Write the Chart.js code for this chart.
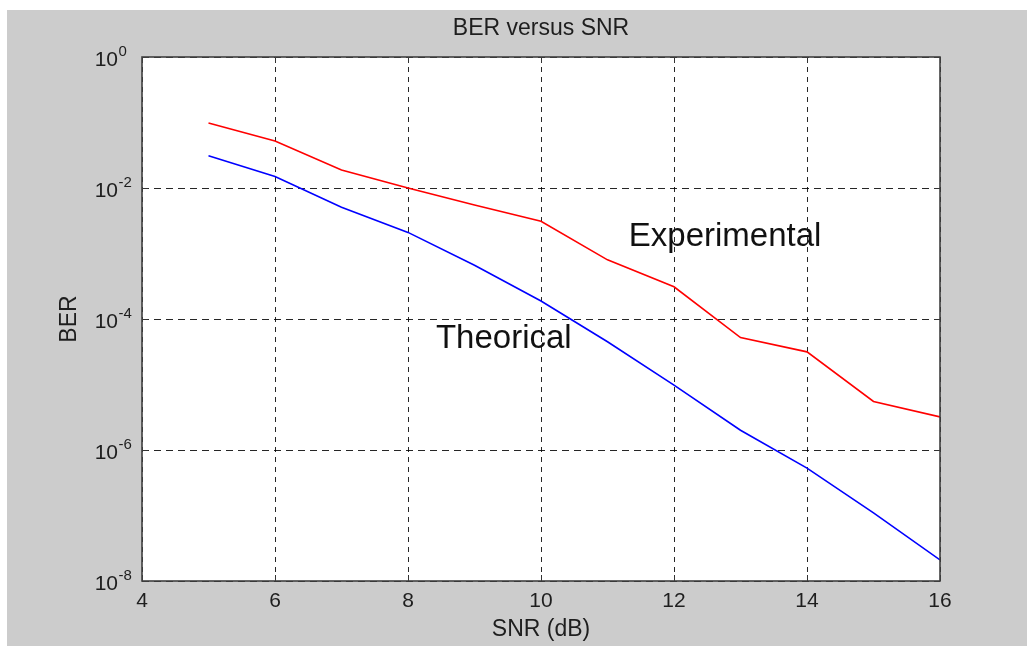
<!DOCTYPE html>
<html>
<head>
<meta charset="utf-8">
<style>
  html, body { margin: 0; padding: 0; background: #ffffff; }
  #wrap { width: 1027px; height: 646px; }
  canvas { display: block; }
</style>
<script src="https://cdn.jsdelivr.net/npm/chart.js@4.4.1/dist/chart.umd.min.js"></script>
</head>
<body>
<div id="wrap"><canvas id="c" width="1027" height="646"></canvas></div>
<script>
// ---- data ----
const snr = [5, 6, 7, 8, 9, 10, 11, 12, 13, 14, 15, 16];
const berExperimental = [0.098, 0.052, 0.0188, 0.0100, 0.0055, 0.0031, 8.0e-4, 3.1e-4, 5.2e-5, 3.15e-5, 5.5e-6, 3.2e-6];
const berTheorical = [0.031, 0.015, 0.0051, 0.0021, 6.6e-4, 1.88e-4, 4.5e-5, 9.8e-6, 2.0e-6, 5.3e-7, 1.1e-7, 2.1e-8];
const xTicks = [4, 6, 8, 10, 12, 14, 16];
const yTickExponents = [0, -2, -4, -6, -8];
const annotationTexts = ['Experimental', 'Theorical'];
const annotationX = [11.32, 8.42];
const annotationY = [1.32e-3, 3.6e-5];
const titleText = 'BER versus SNR';
const xTitle = 'SNR (dB)';
const yTitle = 'BER';

const FONT = '"Liberation Sans", Arial, Helvetica, sans-serif';
const TEXT = '#1e1e1e';

const backgroundPlugin = {
  id: 'matlabBackground',
  beforeDraw(chart) {
    const c = chart.ctx, a = chart.chartArea;
    c.save();
    c.fillStyle = '#ffffff';
    c.fillRect(0, 0, chart.width, chart.height);
    c.fillStyle = '#cccccc';
    c.fillRect(7, 10, chart.width - 7, chart.height - 10);
    c.fillStyle = '#ffffff';
    c.fillRect(a.left, a.top, a.right - a.left, a.bottom - a.top);
    c.restore();
  }
};

const axesPlugin = {
  id: 'matlabAxes',
  afterDraw(chart) {
    const c = chart.ctx, a = chart.chartArea;
    const xs = chart.scales.x, ys = chart.scales.y;
    c.save();
    c.setLineDash([]);
    // inner tick marks
    c.strokeStyle = '#333333';
    c.lineWidth = 1;
    const tl = 6;
    xTicks.forEach(v => {
      const px = Math.round(xs.getPixelForValue(v)) + 0.5;
      c.beginPath();
      c.moveTo(px, a.bottom); c.lineTo(px, a.bottom - tl);
      c.moveTo(px, a.top); c.lineTo(px, a.top + tl);
      c.stroke();
    });
    yTickExponents.forEach(e => {
      const py = Math.round(ys.getPixelForValue(Math.pow(10, e))) + 0.5;
      c.beginPath();
      c.moveTo(a.left, py); c.lineTo(a.left + tl, py);
      c.moveTo(a.right, py); c.lineTo(a.right - tl, py);
      c.stroke();
    });
    // box
    c.strokeStyle = '#404040';
    c.lineWidth = 1.6;
    c.strokeRect(a.left, a.top, a.right - a.left, a.bottom - a.top);
    // y tick labels with superscript exponents
    c.fillStyle = TEXT;
    c.textBaseline = 'alphabetic';
    yTickExponents.forEach(e => {
      const py = ys.getPixelForValue(Math.pow(10, e));
      const xr = a.left - 24;
      c.font = '21px ' + FONT;
      c.textAlign = 'right';
      c.fillText('10', xr, py + 8.5);
      c.font = '15px ' + FONT;
      c.textAlign = 'left';
      c.fillText(String(e), xr + 0.5, py - 1);
    });
    // text annotations
    c.font = '33px ' + FONT;
    c.textAlign = 'left';
    c.fillStyle = '#111111';
    annotationTexts.forEach((t, i) => {
      c.fillText(t, xs.getPixelForValue(annotationX[i]), ys.getPixelForValue(annotationY[i]));
    });
    c.restore();
  }
};

new Chart(document.getElementById('c'), {
  type: 'line',
  data: {
    labels: snr,
    datasets: [
      {
        label: 'Experimental',
        data: snr.map((x, i) => ({ x: x, y: berExperimental[i] })),
        borderColor: 'rgb(255, 0, 0)',
        borderWidth: 1.6,
        pointRadius: 0,
        tension: 0,
        fill: false
      },
      {
        label: 'Theorical',
        data: snr.map((x, i) => ({ x: x, y: berTheorical[i] })),
        borderColor: 'rgb(0, 0, 255)',
        borderWidth: 1.6,
        pointRadius: 0,
        tension: 0,
        fill: false
      }
    ]
  },
  options: {
    responsive: false,
    animation: false,
    devicePixelRatio: 1,
    layout: { padding: { left: 0, right: 87, top: 0, bottom: 0 } },
    plugins: {
      legend: { display: false },
      tooltip: { enabled: false },
      title: {
        display: true,
        text: titleText,
        fullSize: false,
        color: TEXT,
        font: { family: FONT, size: 23, weight: 'normal', lineHeight: 1.2 },
        padding: { top: 15.2, bottom: 14.2 }
      }
    },
    scales: {
      x: {
        type: 'linear',
        min: 4,
        max: 16,
        afterBuildTicks: (s) => { s.ticks = xTicks.map(v => ({ value: v })); },
        afterFit: (s) => { s.height = 65; },
        ticks: {
          color: TEXT,
          font: { family: FONT, size: 21, lineHeight: 1.2 },
          padding: 8,
          maxRotation: 0,
          autoSkip: false
        },
        grid: { color: 'rgba(0,0,0,0.85)', lineWidth: 1, drawTicks: false },
        border: { display: false, dash: [5, 5] },
        title: {
          display: true,
          text: xTitle,
          color: TEXT,
          font: { family: FONT, size: 23, lineHeight: 1.2 },
          padding: { top: 0, bottom: 3 }
        }
      },
      y: {
        type: 'logarithmic',
        min: 1e-8,
        max: 1,
        afterBuildTicks: (s) => { s.ticks = yTickExponents.map(e => ({ value: Math.pow(10, e) })); },
        afterFit: (s) => { s.width = 142; },
        ticks: { display: false },
        grid: { color: 'rgba(0,0,0,0.85)', lineWidth: 1, drawTicks: false },
        border: { display: false, dash: [7, 5] },
        title: {
          display: true,
          text: yTitle,
          color: TEXT,
          font: { family: FONT, size: 23, lineHeight: 1.2 },
          padding: { top: 56, bottom: 0 }
        }
      }
    }
  },
  plugins: [backgroundPlugin, axesPlugin]
});
</script>
</body>
</html>
